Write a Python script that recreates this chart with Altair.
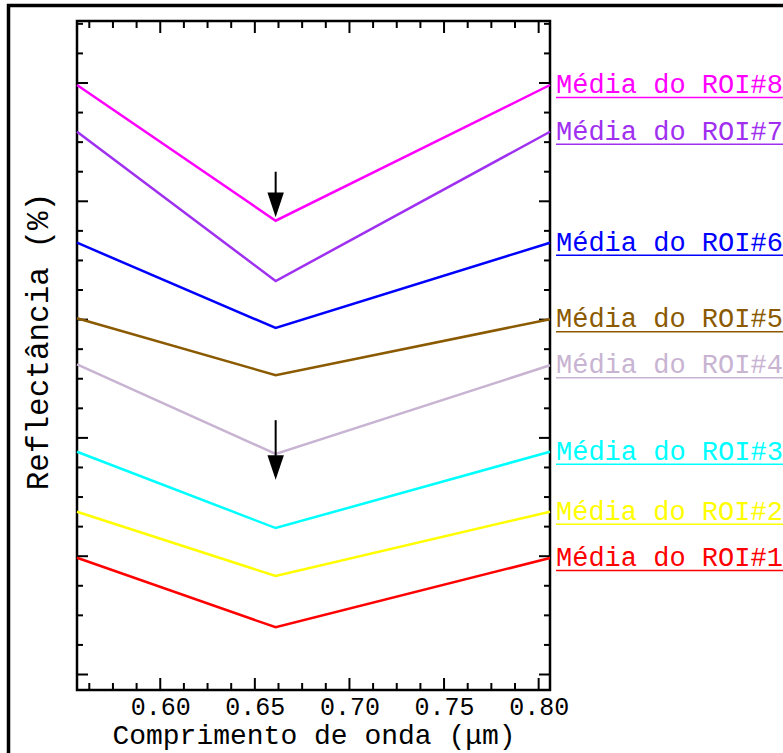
import altair as alt
import pandas as pd

# ---- data ----
rois = ["Média do ROI#1", "Média do ROI#2", "Média do ROI#3", "Média do ROI#4",
        "Média do ROI#5", "Média do ROI#6", "Média do ROI#7", "Média do ROI#8"]
colors = ["#ff0000", "#ffff00", "#00ffff", "#c8b4d2",
          "#8b5a00", "#0000ff", "#a030f0", "#ff00ff"]
wavelengths = [0.556, 0.661, 0.806]
refl_left = [9.87, 13.76, 18.83, 26.22, 30.11, 36.5, 45.88, 49.83]
refl_dip = [3.99, 8.33, 12.38, 18.64, 25.3, 29.29, 33.26, 38.36]
refl_right = [9.85, 13.76, 18.83, 26.14, 30.03, 36.5, 45.88, 49.83]

x_major = [0.60, 0.65, 0.70, 0.75, 0.80]
x_minor = [0.5625, 0.575, 0.5875, 0.6125, 0.625, 0.6375, 0.6625, 0.675, 0.6875,
           0.7125, 0.725, 0.7375, 0.7625, 0.775, 0.7875]
y_major = [0, 10, 20, 30, 40, 50]
y_minor = [2.5, 5, 7.5, 12.5, 15, 17.5, 22.5, 25, 27.5, 32.5, 35, 37.5,
           42.5, 45, 47.5, 52.5, 55]

arrow_x = [0.661, 0.661]
arrow_top = [42.5, 21.5]
arrow_base = [40.6, 18.4]
arrow_head = [39.7, 17.5]

X_DOMAIN = [0.556, 0.806]
Y_DOMAIN = [-1.31, 55.24]
W, H = 473, 669
MONO = "Liberation Mono"

rows = []
for i, r in enumerate(rois):
    for k, (w, v) in enumerate(zip(wavelengths, [refl_left[i], refl_dip[i], refl_right[i]])):
        rows.append({"roi": r, "x": w, "y": v, "order": k})
df = pd.DataFrame(rows)
lab = pd.DataFrame({"roi": rois, "y": refl_right})

xs = alt.Scale(domain=X_DOMAIN, nice=False, zero=False)
ys = alt.Scale(domain=Y_DOMAIN, nice=False, zero=False)
cs = alt.Scale(domain=rois, range=colors)

lines = alt.Chart(df).mark_line(strokeWidth=2.5).encode(
    x=alt.X("x:Q", scale=xs,
            axis=alt.Axis(values=x_major, format=".2f", title="Comprimento de onda (μm)",
                          ticks=False, tickSize=0, domain=False, grid=False,
                          labelFont=MONO, labelFontSize=25, labelColor="black",
                          labelPadding=4, labelFlush=False,
                          titleFont=MONO, titleFontSize=28, titleFontWeight="normal",
                          titleColor="black", titleBaseline="alphabetic", titleY=53)),
    y=alt.Y("y:Q", scale=ys,
            axis=alt.Axis(labels=False, ticks=False, tickSize=0, domain=False, grid=False,
                          title="Reflectância (%)", titleFont=MONO, titleFontSize=31,
                          titleFontWeight="normal", titleColor="black",
                          titleAngle=270, titleX=-39, titleY=320,
                          titleAlign="center", titleBaseline="middle")),
    color=alt.Color("roi:N", scale=cs, legend=None),
    order="order:Q",
)

labels = alt.Chart(lab).mark_text(font=MONO, fontSize=27, align="left",
                                  baseline="alphabetic", dy=8).encode(
    x=alt.value(W + 6), y=alt.Y("y:Q", scale=ys),
    text="roi:N", color=alt.Color("roi:N", scale=cs, legend=None))

underl = alt.Chart(lab).mark_rule(strokeWidth=1.5, yOffset=12.5).encode(
    x=alt.value(W + 6), x2=alt.value(W + 250), y=alt.Y("y:Q", scale=ys),
    color=alt.Color("roi:N", scale=cs, legend=None))

xmaj = pd.DataFrame({"v": x_major})
xmin = pd.DataFrame({"v": x_minor})
ymaj = pd.DataFrame({"v": y_major})
ymin = pd.DataFrame({"v": y_minor})

def xticks(d, ln):
    b = alt.Chart(d).mark_rule(color="black", strokeWidth=2).encode(
        x=alt.X("v:Q", scale=xs), y=alt.value(H), y2=alt.value(H - ln))
    t = alt.Chart(d).mark_rule(color="black", strokeWidth=2).encode(
        x=alt.X("v:Q", scale=xs), y=alt.value(0), y2=alt.value(ln))
    return b + t

def yticks(d, ln):
    l = alt.Chart(d).mark_rule(color="black", strokeWidth=2).encode(
        y=alt.Y("v:Q", scale=ys), x=alt.value(0), x2=alt.value(ln))
    r = alt.Chart(d).mark_rule(color="black", strokeWidth=2).encode(
        y=alt.Y("v:Q", scale=ys), x=alt.value(W), x2=alt.value(W - ln))
    return l + r

arr = pd.DataFrame({"x": arrow_x, "top": arrow_top, "base": arrow_base, "head": arrow_head})
shaft = alt.Chart(arr).mark_rule(color="black", strokeWidth=2).encode(
    x=alt.X("x:Q", scale=xs), y=alt.Y("top:Q", scale=ys), y2="base:Q")
head = alt.Chart(arr).mark_point(shape="M-0.6,-0.9L0.6,-0.9L0,0.9Z", filled=True,
                                 color="black", opacity=1, size=750).encode(
    x=alt.X("x:Q", scale=xs), y=alt.Y("head:Q", scale=ys))

frame = alt.Chart(alt.Data(values=[{"a": 1}])).mark_rect(
    fill="transparent", stroke="black", strokeWidth=3.5).encode(
    x=alt.value(-68.5), x2=alt.value(1000), y=alt.value(-15.5), y2=alt.value(1000))

chart = alt.layer(
    frame, xticks(xmaj, 12), xticks(xmin, 7), yticks(ymaj, 11), yticks(ymin, 6),
    lines, underl, labels, shaft, head
).properties(
    width=W, height=H,
    autosize=alt.AutoSizeParams(type="none"),
    padding={"left": 77, "top": 21, "right": 233, "bottom": 63},
    background="white",
).configure_view(stroke="black", strokeWidth=2.5)

chart.save("out.html", embed_options={"renderer": "svg", "actions": False})
